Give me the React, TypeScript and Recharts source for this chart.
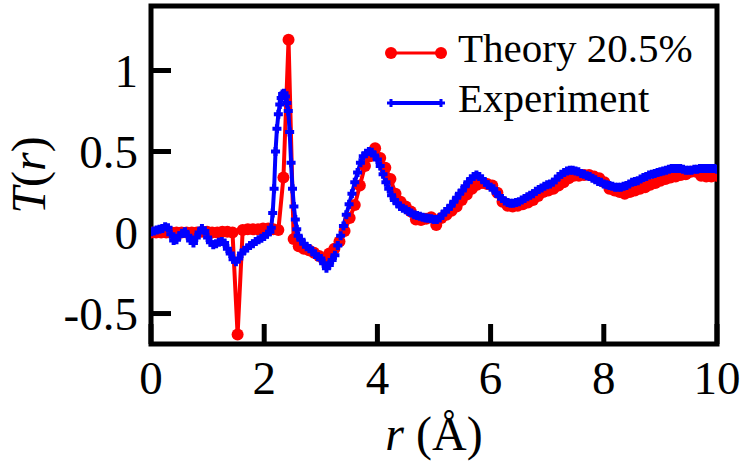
import { LineChart, Line, XAxis, YAxis, ReferenceArea, Legend } from 'recharts';

// Theory 20.5% (red dots), r in Å
const theoryR = [
  0, 0.09, 0.18, 0.27, 0.36, 0.45, 0.54, 0.63, 0.72, 0.81,
  0.9, 0.99, 1.08, 1.17, 1.26, 1.35, 1.44, 1.53, 1.62, 1.71,
  1.8, 1.89, 1.98, 2.07, 2.16, 2.25, 2.34, 2.43, 2.52, 2.61,
  2.7, 2.79, 2.88, 2.97, 3.06, 3.15, 3.24, 3.33, 3.42, 3.51,
  3.6, 3.69, 3.78, 3.87, 3.96, 4.05, 4.14, 4.23, 4.32, 4.41,
  4.5, 4.59, 4.68, 4.77, 4.86, 4.95, 5.04, 5.13, 5.22, 5.31,
  5.4, 5.49, 5.58, 5.67, 5.76, 5.85, 5.94, 6.03, 6.12, 6.21,
  6.3, 6.39, 6.48, 6.57, 6.66, 6.75, 6.84, 6.93, 7.02, 7.11,
  7.2, 7.29, 7.38, 7.47, 7.56, 7.65, 7.74, 7.83, 7.92, 8.01,
  8.1, 8.19, 8.28, 8.37, 8.46, 8.55, 8.64, 8.73, 8.82, 8.91,
  9.0, 9.09, 9.18, 9.27, 9.36, 9.45, 9.54, 9.63, 9.72, 9.81,
  9.9, 9.99,
];
const theoryT = [
  0, 0, 0, 0, 0, 0, 0, 0, 0, 0,
  0.005, 0.005, 0, 0, 0.005, 0.005, 0, -0.63, 0.015, 0.02,
  0.02, 0.02, 0.025, 0.025, 0.02, 0.015, 0.34, 1.19, -0.04, -0.085,
  -0.1, -0.11, -0.125, -0.145, -0.17, -0.13, -0.1, -0.055, 0.01, 0.09,
  0.17, 0.29, 0.41, 0.47, 0.52, 0.46, 0.4, 0.33, 0.24, 0.19,
  0.16, 0.13, 0.08, 0.077, 0.085, 0.095, 0.046, 0.09, 0.11, 0.135,
  0.16, 0.2, 0.235, 0.27, 0.295, 0.305, 0.3, 0.29, 0.245, 0.19,
  0.165, 0.16, 0.165, 0.175, 0.185, 0.2, 0.225, 0.25, 0.26, 0.27,
  0.29, 0.31, 0.335, 0.35, 0.35, 0.355, 0.355, 0.345, 0.335, 0.31,
  0.27, 0.26, 0.25, 0.24, 0.25, 0.26, 0.27, 0.28, 0.295, 0.305,
  0.32, 0.33, 0.34, 0.345, 0.355, 0.36, 0.375, 0.375, 0.35, 0.345,
  0.345, 0.35,
];

// Experiment (blue crosses)
const experimentR = [
  0, 0.05, 0.1, 0.15, 0.2, 0.25, 0.3, 0.35, 0.4, 0.45,
  0.5, 0.55, 0.6, 0.65, 0.7, 0.75, 0.8, 0.85, 0.9, 0.95,
  1.0, 1.05, 1.1, 1.15, 1.2, 1.25, 1.3, 1.35, 1.4, 1.45,
  1.5, 1.55, 1.6, 1.65, 1.7, 1.75, 1.8, 1.85, 1.9, 1.95,
  2.0, 2.05, 2.1, 2.125, 2.15, 2.175, 2.2, 2.225, 2.25, 2.275,
  2.3, 2.325, 2.35, 2.375, 2.4, 2.425, 2.45, 2.475, 2.5, 2.525,
  2.55, 2.575, 2.6, 2.65, 2.7, 2.75, 2.8, 2.85, 2.9, 2.95,
  3.0, 3.05, 3.1, 3.15, 3.2, 3.25, 3.3, 3.35, 3.4, 3.45,
  3.5, 3.55, 3.6, 3.65, 3.7, 3.75, 3.8, 3.85, 3.9, 3.95,
  4.0, 4.05, 4.1, 4.15, 4.2, 4.25, 4.3, 4.35, 4.4, 4.45,
  4.5, 4.55, 4.6, 4.65, 4.7, 4.75, 4.8, 4.85, 4.9, 4.95,
  5.0, 5.05, 5.1, 5.15, 5.2, 5.25, 5.3, 5.35, 5.4, 5.45,
  5.5, 5.55, 5.6, 5.65, 5.7, 5.75, 5.8, 5.85, 5.9, 5.95,
  6.0, 6.05, 6.1, 6.15, 6.2, 6.25, 6.3, 6.35, 6.4, 6.45,
  6.5, 6.55, 6.6, 6.65, 6.7, 6.75, 6.8, 6.85, 6.9, 6.95,
  7.0, 7.05, 7.1, 7.15, 7.2, 7.25, 7.3, 7.35, 7.4, 7.45,
  7.5, 7.55, 7.6, 7.65, 7.7, 7.75, 7.8, 7.85, 7.9, 7.95,
  8.0, 8.05, 8.1, 8.15, 8.2, 8.25, 8.3, 8.35, 8.4, 8.45,
  8.5, 8.55, 8.6, 8.65, 8.7, 8.75, 8.8, 8.85, 8.9, 8.95,
  9.0, 9.05, 9.1, 9.15, 9.2, 9.25, 9.3, 9.35, 9.4, 9.45,
  9.5, 9.55, 9.6, 9.65, 9.7, 9.75, 9.8, 9.85, 9.9, 9.95,
  10.0,
];
const experimentT = [
  0.005, 0.01, 0.015, 0.02, 0.025, 0.035, 0.03, -0.01, -0.05, -0.045,
  -0.02, -0.005, 0.005, -0.02, -0.05, -0.065, -0.03, 0.0, 0.025, 0.01,
  -0.03, -0.06, -0.075, -0.07, -0.06, -0.055, -0.065, -0.1, -0.13, -0.165,
  -0.18, -0.16, -0.13, -0.11, -0.095, -0.08, -0.07, -0.055, -0.045, -0.035,
  -0.025, -0.01, 0.005, 0.03, 0.12, 0.27, 0.5, 0.64, 0.73, 0.79,
  0.83, 0.855, 0.86, 0.84, 0.8, 0.75, 0.62, 0.43, 0.27, 0.16,
  0.08, 0.02, -0.02, -0.045, -0.07, -0.088, -0.098, -0.115, -0.135, -0.15,
  -0.16, -0.19, -0.22, -0.2, -0.17, -0.14, -0.08, -0.02, 0.04, 0.11,
  0.175, 0.24, 0.31, 0.37, 0.43, 0.47, 0.49, 0.5, 0.495, 0.475,
  0.45, 0.41, 0.36, 0.31, 0.27, 0.23, 0.2, 0.18, 0.16, 0.15,
  0.14, 0.13, 0.12, 0.11, 0.105, 0.1, 0.095, 0.09, 0.088, 0.085,
  0.08, 0.08, 0.09, 0.11, 0.13, 0.145, 0.165, 0.19, 0.215, 0.24,
  0.26, 0.285, 0.31, 0.33, 0.345, 0.355, 0.345, 0.33, 0.31, 0.295,
  0.28, 0.27, 0.245, 0.225, 0.21, 0.195, 0.185, 0.18, 0.18, 0.185,
  0.19, 0.2, 0.21, 0.22, 0.23, 0.24, 0.255, 0.265, 0.275, 0.285,
  0.295, 0.3, 0.31, 0.325, 0.345, 0.36, 0.37, 0.38, 0.385, 0.385,
  0.38, 0.375, 0.365, 0.36, 0.35, 0.345, 0.335, 0.325, 0.315, 0.31,
  0.3, 0.295, 0.29, 0.285, 0.28, 0.28, 0.28, 0.285, 0.29, 0.3,
  0.31, 0.315, 0.32, 0.33, 0.34, 0.345, 0.355, 0.36, 0.365, 0.37,
  0.375, 0.38, 0.385, 0.39, 0.395, 0.395, 0.395, 0.395, 0.39, 0.385,
  0.385, 0.385, 0.39, 0.39, 0.395, 0.395, 0.395, 0.395, 0.395, 0.395,
  0.39,
];

const xTicks = [0, 2, 4, 6, 8, 10];
const yTicks = [-0.5, 0, 0.5, 1];

const X_DOMAIN: [number, number] = [0, 10];
const Y_DOMAIN: [number, number] = [-0.688, 1.398];

const RED = '#ff0000';
const BLUE = '#0000ff';
const FONT = 'Liberation Serif';

const theory = theoryR.map((r, i) => ({ r, t: theoryT[i] }));
const experiment = experimentR.map((r, i) => ({ r, t: experimentT[i] }));

const PlusDot = (props: any) => {
  const { cx, cy, index } = props;
  if (cx == null || cy == null) return null;
  return (
    <path
      key={`plus-${index}`}
      d={`M${cx - 4.5},${cy}H${cx + 4.5}M${cx},${cy - 4.5}V${cy + 4.5}`}
      stroke={BLUE}
      strokeWidth={4}
      fill="none"
    />
  );
};

const YLabel = (props: any) => {
  const { viewBox } = props;
  const x = viewBox.x + 28;
  const y = viewBox.y + viewBox.height / 2;
  return (
    <text
      x={x}
      y={y}
      transform={`rotate(-90 ${x} ${y})`}
      textAnchor="middle"
      dominantBaseline="central"
      fontFamily={FONT}
      fontSize={48}
      fill="#000"
    >
      <tspan fontStyle="italic">T</tspan>(<tspan fontStyle="italic">r</tspan>)
    </text>
  );
};

const XLabel = (props: any) => {
  const { viewBox } = props;
  const x = viewBox.x + viewBox.width / 2;
  return (
    <text x={x} y={viewBox.y + 106} textAnchor="middle" fontFamily={FONT} fontSize={48} fill="#000">
      <tspan fontStyle="italic">r</tspan> (Å)
    </text>
  );
};

const legendRows = [
  { label: 'Theory 20.5%', color: RED, marker: 'circle' },
  { label: 'Experiment', color: BLUE, marker: 'plus' },
];

const LegendBox = () => (
  <div style={{ fontFamily: FONT, fontSize: 41, color: '#000' }}>
    {legendRows.map((row) => (
      <div key={row.label} style={{ display: 'flex', height: 50, lineHeight: '50px', whiteSpace: 'nowrap' }}>
        <svg width={73} height={50} style={{ display: 'block', flex: 'none' }}>
          <line x1={6} y1={30} x2={56} y2={30} stroke={row.color} strokeWidth={row.marker === 'circle' ? 3 : 4} />
          {row.marker === 'circle' ? (
            <>
              <circle cx={6} cy={30} r={6} fill={row.color} />
              <circle cx={56} cy={30} r={6} fill={row.color} />
            </>
          ) : (
            <path d="M2,30H10M6,26V34M52,30H60M56,26V34" stroke={row.color} strokeWidth={3} />
          )}
        </svg>
        <span>{row.label}</span>
      </div>
    ))}
  </div>
);

export default function App() {
  return (
    <div style={{ position: 'absolute', left: 0, top: 0, width: 747, height: 466, background: '#fff' }}>
      <LineChart width={747} height={466} margin={{ top: 6, right: 30, bottom: 0, left: 0 }}>
        <XAxis
          dataKey="r"
          type="number"
          domain={X_DOMAIN}
          ticks={xTicks}
          allowDataOverflow
          height={122}
          axisLine={false}
          tickSize={-20}
          tickMargin={37}
          tickLine={{ stroke: '#000', strokeWidth: 5 }}
          tick={{ fontFamily: FONT, fontSize: 47, fill: '#000' }}
          label={<XLabel />}
        />
        <YAxis
          type="number"
          domain={Y_DOMAIN}
          ticks={yTicks}
          allowDataOverflow
          width={151}
          axisLine={false}
          tickSize={-20}
          tickMargin={33}
          tickLine={{ stroke: '#000', strokeWidth: 5 }}
          tick={{ fontFamily: FONT, fontSize: 47, fill: '#000' }}
          label={<YLabel />}
        />
        <Line
          data={theory}
          dataKey="t"
          name="Theory 20.5%"
          stroke={RED}
          strokeWidth={4}
          dot={{ r: 6, fill: RED, stroke: 'none' }}
          activeDot={false}
          isAnimationActive={false}
        />
        <Line
          data={experiment}
          dataKey="t"
          name="Experiment"
          stroke={BLUE}
          strokeWidth={4}
          dot={PlusDot}
          activeDot={false}
          isAnimationActive={false}
        />
        <ReferenceArea
          x1={X_DOMAIN[0]}
          x2={X_DOMAIN[1]}
          y1={Y_DOMAIN[0]}
          y2={Y_DOMAIN[1]}
          fill="none"
          fillOpacity={0}
          stroke="#000"
          strokeWidth={5}
          ifOverflow="visible"
        />
        <Legend
          layout="horizontal"
          verticalAlign="middle"
          align="center"
          content={<LegendBox />}
          wrapperStyle={{ left: 385, top: 23, width: 340 }}
        />
      </LineChart>
    </div>
  );
}
